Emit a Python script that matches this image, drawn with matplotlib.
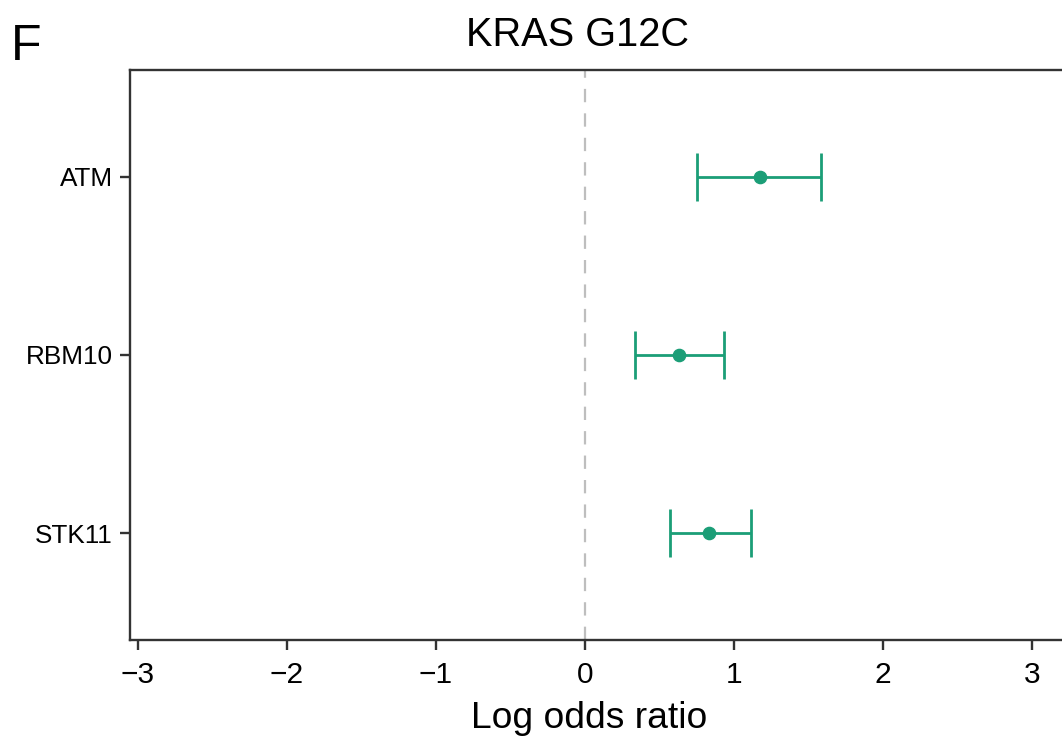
import matplotlib
matplotlib.use("Agg")
import matplotlib.pyplot as plt

genes = ["STK11", "RBM10", "ATM"]
log_or = [0.833, 0.632, 1.177]
ci_low = [0.567, 0.337, 0.748]
ci_high = [1.115, 0.932, 1.584]
title = "KRAS G12C"
panel_label = "F"
xlabel = "Log odds ratio"
xticks = [-3, -2, -1, 0, 1, 2, 3]

plt.rcParams['font.family'] = ['Liberation Sans', 'DejaVu Sans']
W, H = 1062, 736
fig = plt.figure(figsize=(W / 100, H / 100), dpi=100)
left_px, right_px, top_px, bottom_px = 129.7, 1077.0, 70.0, 640.0
ax = fig.add_axes([left_px / W, 1 - bottom_px / H, (right_px - left_px) / W, (bottom_px - top_px) / H])

color = "#1B9E77"
ypos = list(range(1, len(genes) + 1))
ax.axvline(0, color="#BEBEBE", lw=1.6, ls=(0, (6, 5)), zorder=1)
xerr = [[v - l for v, l in zip(log_or, ci_low)], [h - v for v, h in zip(log_or, ci_high)]]
ax.errorbar(log_or, ypos, xerr=xerr, fmt="o", color=color, ms=8.8, elinewidth=2.0,
            capsize=17, capthick=2.0, zorder=3)

ax.set_xlim(-3.054, 3.3)
ax.set_ylim(0.4, 3.6)
ax.set_yticks(ypos)
ax.set_yticklabels(genes, fontsize=18.8)
ax.set_xticks(xticks)
ax.set_xticklabels([f"{t}".replace("-", "\u2212") for t in xticks], fontsize=21.5)

for s in ["left", "bottom", "top", "right"]:
    ax.spines[s].set_color("#333333")
    ax.spines[s].set_linewidth(1.7)
ax.tick_params(axis="both", length=7.2, width=1.7, color="#333333", labelcolor="black")
ax.tick_params(axis="x", pad=8)
ax.tick_params(axis="y", pad=5)

fig.text(577 / W, 1 - 34.5 / H, title, fontsize=28.6, ha="center", va="center")
fig.text(589.5 / W, 1 - 728.5 / H, xlabel, fontsize=26.8, ha="center", va="baseline")
fig.text(11 / W, 1 - 60 / H, panel_label, fontsize=36, ha="left", va="baseline")

fig.savefig("out.png", dpi=100)
